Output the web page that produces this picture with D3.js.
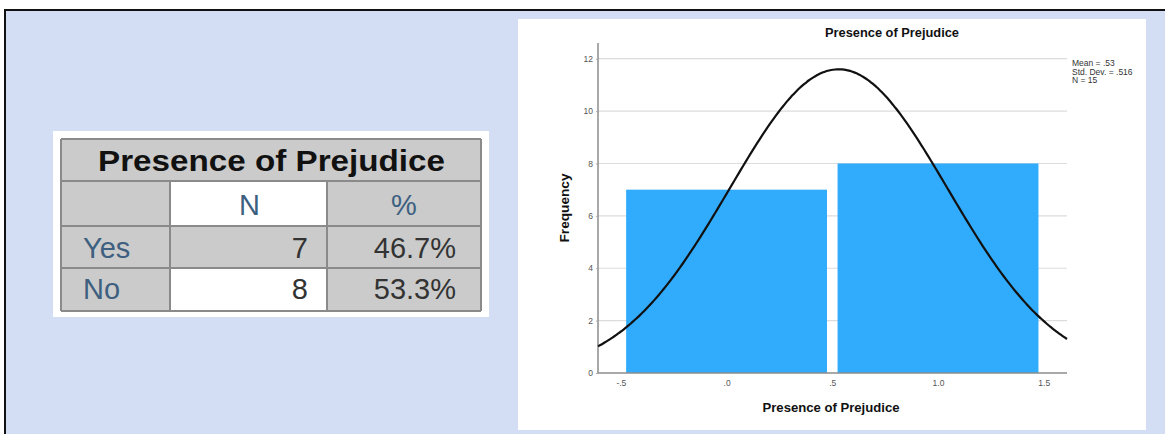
<!DOCTYPE html>
<html>
<head>
<meta charset="utf-8">
<script src="https://cdn.jsdelivr.net/npm/d3@7"></script>
<style>
    html, body { margin: 0; padding: 0; background: #fff; }
    text { font-family: "Liberation Sans", Arial, sans-serif; }
</style>
</head>
<body>
<svg id="svg" width="1165" height="434"></svg>
<script>
    // table data
    var categories = ["Yes", "No"];
    var counts = [7, 8];
    var percents = ["46.7%", "53.3%"];

    // histogram data
    var binStart = [-0.5, 0.5];
    var binEnd = [0.5, 1.5];
    var frequency = [7, 8];
    var yTicks = [0, 2, 4, 6, 8, 10, 12];
    var xTicks = [-0.5, 0, 0.5, 1, 1.5];
    var xTickLabels = ["-.5", ".0", ".5", "1.0", "1.5"];

    // stats shown in the legend
    var mean = 0.53;
    var stdDev = 0.516;
    var nTotal = 15;
    var statLines = ["Mean = .53", "Std. Dev. = .516", "N = 15"];

    var svg = d3.select("#svg");

    // page background with frame
    svg.append("rect").attr("x", 5).attr("y", 10).attr("width", 1160).attr("height", 424)
        .attr("fill", "#d3ddf4");
    svg.append("path").attr("d", "M5,434V10H1165").attr("fill", "none")
        .attr("stroke", "#111").attr("stroke-width", 2);

    // ---------- table ----------
    svg.append("rect").attr("x", 53).attr("y", 131).attr("width", 436).attr("height", 186).attr("fill", "#fff");

    var colX = [61, 170, 327, 481];
    var rowY = [139, 181, 226, 268, 311];
    var gray = "#cbcbcb";
    var t = svg.append("g");

    // title row
    t.append("rect").attr("x", colX[0]).attr("y", rowY[0]).attr("width", colX[3] - colX[0])
        .attr("height", rowY[1] - rowY[0]).attr("fill", gray);
    // header + body cells
    var cellFill = [
        [gray, "#fff", gray],
        [gray, gray, gray],
        [gray, "#fff", gray]
    ];
    cellFill.forEach(function (row, r) {
        row.forEach(function (f, c) {
            t.append("rect").attr("x", colX[c]).attr("y", rowY[r + 1])
                .attr("width", colX[c + 1] - colX[c]).attr("height", rowY[r + 2] - rowY[r + 1])
                .attr("fill", f);
        });
    });
    // grid lines
    rowY.forEach(function (y) {
        t.append("line").attr("x1", colX[0]).attr("x2", colX[3]).attr("y1", y).attr("y2", y)
            .attr("stroke", "#8a8a8a").attr("stroke-width", 2);
    });
    [colX[0], colX[3]].forEach(function (x) {
        t.append("line").attr("x1", x).attr("x2", x).attr("y1", rowY[0]).attr("y2", rowY[4])
            .attr("stroke", "#8a8a8a").attr("stroke-width", 2);
    });
    [colX[1], colX[2]].forEach(function (x) {
        t.append("line").attr("x1", x).attr("x2", x).attr("y1", rowY[1]).attr("y2", rowY[4])
            .attr("stroke", "#8a8a8a").attr("stroke-width", 2);
    });

    t.append("text").attr("x", 98).attr("y", 171)
        .attr("font-size", 30).attr("font-weight", "bold")
        .attr("textLength", 347).attr("lengthAdjust", "spacingAndGlyphs")
        .attr("fill", "#111").text("Presence of Prejudice");

    var blue = "#3d5f80";
    t.append("text").attr("x", (colX[1] + colX[2]) / 2 + 1).attr("y", 215)
        .attr("text-anchor", "middle").attr("font-size", 29).attr("fill", blue).text("N");
    t.append("text").attr("x", (colX[2] + colX[3]) / 2).attr("y", 215)
        .attr("text-anchor", "middle").attr("font-size", 29).attr("fill", blue).text("%");

    categories.forEach(function (cat, i) {
        var base = [258, 299][i];
        t.append("text").attr("x", 83).attr("y", base).attr("font-size", 29)
            .attr("fill", blue).text(cat);
        t.append("text").attr("x", colX[2] - 19).attr("y", base).attr("text-anchor", "end")
            .attr("font-size", 29).attr("fill", "#333").text(counts[i]);
        t.append("text").attr("x", colX[3] - 25).attr("y", base).attr("text-anchor", "end")
            .attr("font-size", 29).attr("fill", "#333").text(percents[i]);
    });

    // ---------- histogram ----------
    svg.append("rect").attr("x", 518).attr("y", 19).attr("width", 628).attr("height", 411).attr("fill", "#fff");

    var x = d3.scaleLinear().domain([-0.608, 1.61]).range([598, 1067]);
    var y = d3.scaleLinear().domain([0, 12.6]).range([373, 43]);

    var chart = svg.append("g");

    // gridlines
    chart.selectAll(".grid").data(yTicks.slice(1)).enter().append("line")
        .attr("x1", x.range()[0]).attr("x2", x.range()[1])
        .attr("y1", function (d) { return y(d); }).attr("y2", function (d) { return y(d); })
        .attr("stroke", "#dcdcdc").attr("stroke-width", 1.2);

    // bars
    var inset = 0.025;
    chart.selectAll(".bar").data(frequency).enter().append("rect")
        .attr("x", function (d, i) { return x(binStart[i] + inset); })
        .attr("width", function (d, i) { return x(binEnd[i] - inset) - x(binStart[i] + inset); })
        .attr("y", function (d) { return y(d); })
        .attr("height", function (d) { return y(0) - y(d); })
        .attr("fill", "#31acfc");

    // axes
    var yAxis = chart.append("g").attr("transform", "translate(" + x.range()[0] + ",0)")
        .call(d3.axisLeft(y).tickValues(yTicks).tickSize(2).tickPadding(3).tickFormat(d3.format("d")));
    var xAxis = chart.append("g").attr("transform", "translate(0," + y(0) + ")")
        .call(d3.axisBottom(x).tickValues(xTicks).tickSize(0).tickPadding(7)
            .tickFormat(function (d, i) { return xTickLabels[i]; }));
    [yAxis, xAxis].forEach(function (a) {
        a.attr("font-size", 8.5);
        a.select(".domain").attr("stroke", "#8c8c8c").attr("stroke-width", 1.5);
        a.selectAll(".tick line").attr("stroke", "#aaa");
        a.selectAll(".tick text").attr("font-family", "Liberation Sans, Arial, sans-serif")
            .attr("font-size", 8.5).attr("fill", "#555");
    });
    yAxis.select(".domain").attr("d", "M0," + y.range()[1] + "V" + y.range()[0]);
    xAxis.select(".domain").attr("d", "M" + x.range()[0] + ",0H" + x.range()[1]);

    // normal curve from the displayed mean, std. dev. and N (bin width 1)
    var binWidth = binEnd[0] - binStart[0];
    var xs = d3.range(0, 201).map(function (i) {
        return x.domain()[0] + (x.domain()[1] - x.domain()[0]) * i / 200;
    });
    var normal = function (v) {
        var z = (v - mean) / stdDev;
        return nTotal * binWidth * Math.exp(-0.5 * z * z) / (stdDev * Math.sqrt(2 * Math.PI));
    };
    chart.append("path").datum(xs)
        .attr("d", d3.line().x(function (d) { return x(d); }).y(function (d) { return y(normal(d)); })
            .curve(d3.curveBasis))
        .attr("fill", "none").attr("stroke", "#111").attr("stroke-width", 2.2);

    // titles
    chart.append("text").attr("x", 892).attr("y", 37).attr("text-anchor", "middle")
        .attr("font-size", 12).attr("font-weight", "bold").attr("fill", "#111")
        .attr("textLength", 134).attr("lengthAdjust", "spacingAndGlyphs").text("Presence of Prejudice");
    chart.append("text").attr("x", 831).attr("y", 412).attr("text-anchor", "middle")
        .attr("font-size", 12).attr("font-weight", "bold").attr("fill", "#111")
        .attr("textLength", 137).attr("lengthAdjust", "spacingAndGlyphs").text("Presence of Prejudice");
    chart.append("text").attr("transform", "translate(569,208) rotate(-90)").attr("text-anchor", "middle")
        .attr("font-size", 12).attr("font-weight", "bold").attr("fill", "#111")
        .attr("textLength", 69).attr("lengthAdjust", "spacingAndGlyphs").text("Frequency");

    // stats legend
    chart.selectAll(".stat").data(statLines).enter().append("text")
        .attr("x", 1072).attr("y", function (d, i) { return 66 + i * 8.5; })
        .attr("font-size", 8.5).attr("fill", "#333").text(function (d) { return d; });
</script>
</body>
</html>
